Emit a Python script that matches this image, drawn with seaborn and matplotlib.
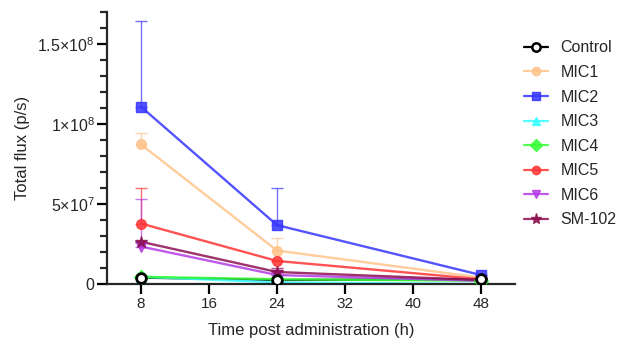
import numpy as np
import pandas as pd
import seaborn as sns
import matplotlib.pyplot as plt
from matplotlib.ticker import FixedFormatter, FixedLocator, MultipleLocator

# Dados (fluxo total, p/s)
times = [8, 24, 48]
groups = ["Control", "MIC1", "MIC2", "MIC3", "MIC4", "MIC5", "MIC6", "SM-102"]

control = [0.40e7, 0.25e7, 0.30e7]
mic1 = [8.72e7, 2.09e7, 0.40e7]
mic2 = [11.08e7, 3.68e7, 0.56e7]
mic3 = [0.45e7, 0.10e7, 0.00e7]
mic4 = [0.45e7, 0.30e7, 0.20e7]
mic5 = [3.78e7, 1.44e7, 0.30e7]
mic6 = [2.34e7, 0.56e7, 0.20e7]
sm102 = [2.64e7, 0.75e7, 0.25e7]

# barras de erro (só para cima)
err_mic1 = [0.71e7, 0.81e7, 0.0]
err_mic2 = [5.35e7, 2.32e7, 0.0]
err_mic5 = [2.22e7, 0.0, 0.0]
err_mic6 = [3.0e7, 0.0, 0.0]
err_sm102 = [0.0, 0.25e7, 0.0]
err_zero = [0.0, 0.0, 0.0]

values = [control, mic1, mic2, mic3, mic4, mic5, mic6, sm102]
errors = [err_zero, err_mic1, err_mic2, err_zero, err_zero, err_mic5, err_mic6, err_sm102]

# ticks do eixo y
ytick_vals = [0, 5e7, 1e8, 1.5e8]
ytick_labels = ["0", r"$5{\times}10^{7}$", r"$1{\times}10^{8}$", r"$1.5{\times}10^{8}$"]
xtick_vals = [8, 16, 24, 32, 40, 48]

colors = ["#000000", "#FFC38A", "#3535FF", "#35FFFF", "#35FF35", "#FF3535", "#B43CE6", "#8C0F50"]
markers = ["o", "o", "s", "^", "D", "o", "v", "*"]

df = pd.DataFrame({
    "time": np.tile(times, len(groups)),
    "flux": np.concatenate(values),
    "err": np.concatenate(errors),
    "group": np.repeat(groups, len(times)),
})

sns.set_style("ticks")
plt.rcParams["font.family"] = ["Liberation Sans", "DejaVu Sans"]
plt.rcParams["mathtext.fontset"] = "custom"
plt.rcParams["mathtext.rm"] = "Liberation Sans"
plt.rcParams["mathtext.it"] = "Liberation Sans"

fig = plt.figure(figsize=(6.19, 3.42), dpi=100)
ax = fig.add_axes([107 / 619, 58 / 342, 408 / 619, 272 / 342])

palette = dict(zip(groups, colors))
sns.lineplot(data=df, x="time", y="flux", hue="group", palette=palette,
             hue_order=groups, linewidth=1.7, legend=False, ax=ax, alpha=0.85)

for g, c, m in zip(groups, colors, markers):
    sub = df[df["group"] == g]
    ax.errorbar(sub["time"], sub["flux"], yerr=[np.zeros(len(sub)), sub["err"]],
                fmt="none", ecolor=c, elinewidth=1, capsize=4, capthick=1, alpha=0.7)
    if g == "Control":
        ax.plot(sub["time"], sub["flux"], ls="none", marker=m, ms=7,
                mfc="white", mec="black", mew=2, zorder=5)
    else:
        ax.plot(sub["time"], sub["flux"], ls="none", marker=m,
                ms=9 if m == "*" else 7, mfc=c, mec=c, alpha=0.85, zorder=4)

# legenda manual
handles = []
for g, c, m in zip(groups, colors, markers):
    if g == "Control":
        h, = ax.plot([], [], color=c, lw=1.6, marker=m, ms=6, mfc="white", mec=c, mew=1.8)
    else:
        h, = ax.plot([], [], color=c, lw=1.6, marker=m, ms=8 if m == "*" else 6, alpha=0.85)
    handles.append(h)
fig.legend(handles, groups, loc="upper left", bbox_to_anchor=(518 / 619, 1 - 34 / 342),
           frameon=False, fontsize=11.5, handlelength=1.45, handletextpad=0.8,
           labelspacing=0.6, borderaxespad=0)

ax.set_xlim(4, 52)
ax.set_ylim(0, 1.7e8)
ax.set_xticks(xtick_vals)
ax.yaxis.set_major_locator(FixedLocator(ytick_vals))
ax.yaxis.set_major_formatter(FixedFormatter(ytick_labels))
ax.yaxis.set_minor_locator(MultipleLocator(1e7))

for side in ["top", "right"]:
    ax.spines[side].set_visible(False)
for side in ["left", "bottom"]:
    ax.spines[side].set_linewidth(1.6)
ax.tick_params(axis="both", which="major", length=7, width=1.6, labelsize=11.5,
               color="black", pad=2)
ax.tick_params(axis="x", which="major", labelsize=11)
ax.tick_params(axis="y", which="minor", length=5, width=1.6)

ax.set_xlabel("Time post administration (h)", fontsize=12, labelpad=9)
ax.set_ylabel("Total flux (p/s)", fontsize=12, labelpad=5)

fig.savefig("out.png", dpi=100)
